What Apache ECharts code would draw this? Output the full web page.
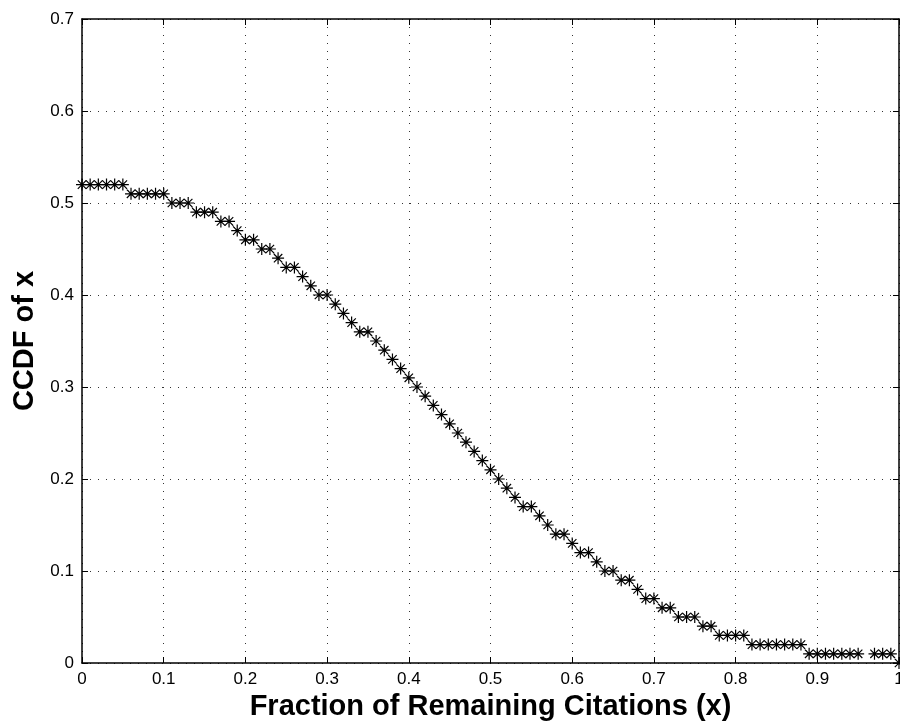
<!DOCTYPE html>
<html>
<head>
<meta charset="utf-8">
<script src="https://cdn.jsdelivr.net/npm/echarts@6/dist/echarts.min.js"></script>
<style>html,body{margin:0;padding:0;background:#fff;}#c{width:900px;height:722px;}</style>
</head>
<body>
<div id="c"></div>
<script>
var xValues = [0,0.01,0.02,0.03,0.04,0.05,0.06,0.07,0.08,0.09,
  0.10,0.11,0.12,0.13,0.14,0.15,0.16,0.17,0.18,0.19,
  0.20,0.21,0.22,0.23,0.24,0.25,0.26,0.27,0.28,0.29,
  0.30,0.31,0.32,0.33,0.34,0.35,0.36,0.37,0.38,0.39,
  0.40,0.41,0.42,0.43,0.44,0.45,0.46,0.47,0.48,0.49,
  0.50,0.51,0.52,0.53,0.54,0.55,0.56,0.57,0.58,0.59,
  0.60,0.61,0.62,0.63,0.64,0.65,0.66,0.67,0.68,0.69,
  0.70,0.71,0.72,0.73,0.74,0.75,0.76,0.77,0.78,0.79,
  0.80,0.81,0.82,0.83,0.84,0.85,0.86,0.87,0.88,0.89,
  0.90,0.91,0.92,0.93,0.94,0.95,0.96,0.97,0.98,0.99,1.00];
var ccdfValues = [0.52,0.52,0.52,0.52,0.52,0.52,0.51,0.51,0.51,0.51,
  0.51,0.50,0.50,0.50,0.49,0.49,0.49,0.48,0.48,0.47,
  0.46,0.46,0.45,0.45,0.44,0.43,0.43,0.42,0.41,0.40,
  0.40,0.39,0.38,0.37,0.36,0.36,0.35,0.34,0.33,0.32,
  0.31,0.30,0.29,0.28,0.27,0.26,0.25,0.24,0.23,0.22,
  0.21,0.20,0.19,0.18,0.17,0.17,0.16,0.15,0.14,0.14,
  0.13,0.12,0.12,0.11,0.10,0.10,0.09,0.09,0.08,0.07,
  0.07,0.06,0.06,0.05,0.05,0.05,0.04,0.04,0.03,0.03,
  0.03,0.03,0.02,0.02,0.02,0.02,0.02,0.02,0.02,0.01,
  0.01,0.01,0.01,0.01,0.01,0.01,null,0.01,0.01,0.01,0];
var xTickLabels = ['0','0.1','0.2','0.3','0.4','0.5','0.6','0.7','0.8','0.9','1'];
var yTickLabels = ['0','0.1','0.2','0.3','0.4','0.5','0.6','0.7'];
var xTitle = 'Fraction of Remaining Citations (x)';
var yTitle = 'CCDF of x';

var seriesData = xValues.map(function(x, i){ return [x, ccdfValues[i]]; });
var font = '"Liberation Sans", Arial, Helvetica, sans-serif';
var star = 'path://M0,-1L0,1M-1,0L1,0M-0.7,-0.7L0.7,0.7M-0.7,0.7L0.7,-0.7';
var gridLine = {show:true, lineStyle:{color:'#333', width:1, type:[1,7]}};

var chart = echarts.init(document.getElementById('c'), null, {renderer:'canvas'});
chart.setOption({
  animation:false,
  backgroundColor:'#fff',
  grid:{left:82, top:19, right:1, bottom:59, containLabel:false, outerBoundsMode:'none'},
  xAxis:[{
    type:'value', min:0, max:1, interval:0.1, position:'bottom',
    name:xTitle, nameLocation:'middle', nameGap:29,
    nameTextStyle:{fontFamily:font, fontWeight:'bold', fontSize:29, color:'#000'},
    axisLine:{show:true, onZero:false, lineStyle:{color:'#000', width:1.5}},
    axisTick:{show:true, inside:true, length:6, lineStyle:{color:'#000'}},
    axisLabel:{margin:8, fontFamily:font, fontSize:17, color:'#000',
      formatter:function(v){ return xTickLabels[Math.round(v*10)]; }},
    splitLine:gridLine
  },{
    type:'value', min:0, max:1, interval:0.1, position:'top',
    axisLine:{show:true, onZero:false, lineStyle:{color:'#000', width:1.5}},
    axisTick:{show:true, inside:true, length:6, lineStyle:{color:'#000'}},
    axisLabel:{show:false}, splitLine:{show:false}
  }],
  yAxis:[{
    type:'value', min:0, max:0.7, interval:0.1, position:'left',
    name:yTitle, nameLocation:'middle', nameGap:42, nameRotate:90,
    nameTextStyle:{fontFamily:font, fontWeight:'bold', fontSize:29, color:'#000'},
    axisLine:{show:true, onZero:false, lineStyle:{color:'#000', width:1.5}},
    axisTick:{show:true, inside:true, length:6, lineStyle:{color:'#000'}},
    axisLabel:{margin:8, fontFamily:font, fontSize:17, color:'#000',
      formatter:function(v){ return yTickLabels[Math.round(v*10)]; }},
    splitLine:gridLine
  },{
    type:'value', min:0, max:0.7, interval:0.1, position:'right',
    axisLine:{show:true, onZero:false, lineStyle:{color:'#000', width:1.5}},
    axisTick:{show:true, inside:true, length:6, lineStyle:{color:'#000'}},
    axisLabel:{show:false}, splitLine:{show:false}
  }],
  series:[{
    type:'line',
    data:seriesData,
    connectNulls:false,
    symbol:star,
    symbolSize:12,
    showAllSymbol:true,
    itemStyle:{color:'#000', borderColor:'#000', borderWidth:1.2},
    lineStyle:{color:'#000', width:0.8, type:[1,2]},
    clip:false
  }]
});
</script>
</body>
</html>
